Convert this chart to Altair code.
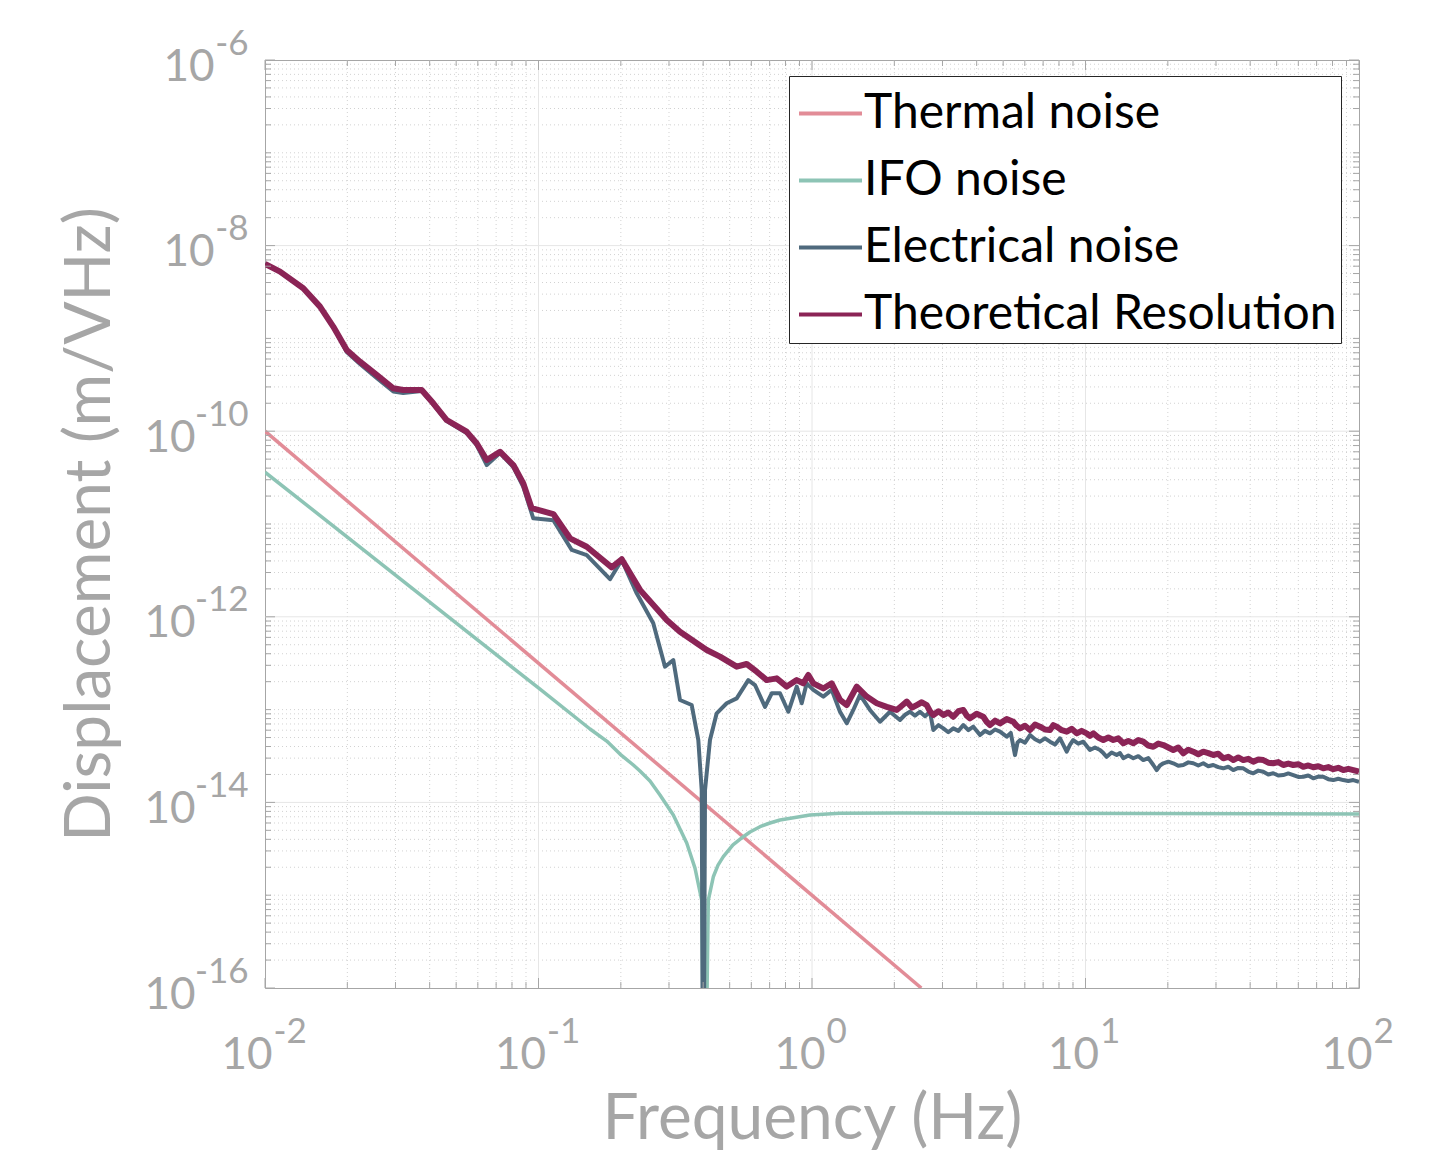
import altair as alt
import pandas as pd

W, H = 1094, 928
GRAY = "#a6a6a6"
FONT = "Lato"

# ---------------- data ----------------
series_names = ["Thermal noise", "IFO noise", "Electrical noise", "Theoretical Resolution"]
series_colors = ["#e28c97", "#8dc4b5", "#4f6a7d", "#8b2456"]
series_widths = [3.5, 3.5, 4, 6]

thermal_f = [0.01, 2.51]
thermal_v = [1.0e-10, 1.0e-16]

ifo_f = [0.01, 0.1013, 0.1543, 0.1776, 0.1986, 0.2222, 0.2350, 0.2557, 0.2781, 0.3111,
         0.3483, 0.3734, 0.3951, 0.4046, 0.4177, 0.4357, 0.4533, 0.4740, 0.5141, 0.5609,
         0.5934, 0.6454, 0.7021, 0.7638, 0.9833, 1.266, 2.097, 100.0]
ifo_v = [3.62e-11, 1.66e-13, 6.18e-14, 4.58e-14, 3.32e-14, 2.53e-14, 2.18e-14, 1.70e-14, 1.20e-14, 7.31e-15,
         3.65e-15, 1.96e-15, 8.87e-16, 1.0e-18, 8.87e-16, 1.58e-15, 2.11e-15, 2.60e-15, 3.48e-15, 4.27e-15,
         4.80e-15, 5.47e-15, 6.0e-15, 6.46e-15, 7.31e-15, 7.62e-15, 7.69e-15, 7.50e-15]

elec_f = [0.01, 0.01135, 0.0138, 0.01589, 0.01776, 0.0199, 0.02225, 0.0256, 0.02945, 0.0320,
          0.0374, 0.04124, 0.04617, 0.0546, 0.0594, 0.0647, 0.0723, 0.0809, 0.0880, 0.0957,
          0.1133, 0.1323, 0.1501, 0.1826, 0.2015, 0.2286, 0.2628, 0.2901, 0.3111, 0.3291,
          0.3632, 0.3840, 0.3951, 0.4006, 0.4063, 0.4236, 0.4482, 0.4876, 0.5305, 0.5849,
          0.6189, 0.6733, 0.7124, 0.7638, 0.8193, 0.8794, 0.9169, 0.9564, 1.011, 1.100,
          1.180, 1.266, 1.340, 1.416, 1.498, 1.629, 1.773, 1.928, 2.097, 2.19,
          2.281, 2.38, 2.482, 2.59, 2.700, 2.777, 2.90, 3.021, 3.15, 3.286,
          3.43, 3.574, 3.73, 3.889, 4.116, 4.29, 4.476, 4.67, 4.869, 5.151,
          5.33, 5.524, 5.64, 5.762, 6.01, 6.268, 6.54, 6.817, 7.11, 7.416,
          7.74, 8.07, 8.537, 8.78, 9.02, 9.41, 9.82, 10.38, 10.83, 11.30,
          11.62, 11.95, 12.46, 13.00, 13.37, 13.75, 14.34, 14.96, 15.60, 16.27,
          16.97, 17.70, 18.21, 18.72, 19.26, 20.08, 20.94, 21.84, 22.78, 23.76,
          24.78, 25.85, 26.96, 28.12, 29.33, 30.59, 31.90, 33.27, 34.70, 36.19,
          37.75, 39.37, 41.06, 42.83, 44.67, 46.59, 48.59, 50.68, 52.86, 55.13,
          57.51, 59.98, 62.55, 65.24, 68.05, 70.98, 74.03, 77.22, 80.54, 84.0,
          87.62, 91.38, 95.30, 100.0]
elec_v = [6.34e-9, 5.24e-9, 3.47e-9, 2.20e-9, 1.34e-9, 7.13e-10, 5.30e-10, 3.74e-10, 2.68e-10, 2.58e-10,
          2.71e-10, 1.94e-10, 1.29e-10, 9.57e-11, 7.10e-11, 4.32e-11, 5.82e-11, 4.11e-11, 2.51e-11, 1.15e-11,
          1.10e-11, 5.25e-12, 4.63e-12, 2.54e-12, 4.09e-12, 1.79e-12, 8.51e-13, 2.90e-13, 3.42e-13, 1.27e-13,
          1.12e-13, 4.70e-14, 1.36e-14, 1.0e-18, 1.36e-14, 4.70e-14, 9.12e-14, 1.17e-13, 1.32e-13, 2.08e-13,
          1.84e-13, 1.07e-13, 1.50e-13, 1.50e-13, 9.48e-14, 1.77e-13, 1.17e-13, 1.92e-13, 1.63e-13, 1.38e-13,
          1.63e-13, 9.48e-14, 7.11e-14, 9.91e-14, 1.44e-13, 9.91e-14, 7.40e-14, 9.48e-14, 7.73e-14, 8.8e-14,
          9.48e-14, 8.6e-14, 9.48e-14, 8.5e-14, 9.48e-14, 6.03e-14, 6.8e-14, 6.28e-14, 5.7e-14, 6.28e-14,
          5.9e-14, 6.82e-14, 6.0e-14, 6.55e-14, 5.32e-14, 5.9e-14, 5.55e-14, 6.1e-14, 5.78e-14, 5.11e-14,
          5.6e-14, 3.24e-14, 4.4e-14, 4.70e-14, 4.4e-14, 5.32e-14, 4.8e-14, 4.51e-14, 4.9e-14, 4.51e-14,
          4.2e-14, 4.91e-14, 3.52e-14, 4.2e-14, 4.70e-14, 4.3e-14, 4.51e-14, 3.67e-14, 3.9e-14, 3.67e-14,
          3.4e-14, 3.10e-14, 3.45e-14, 3.24e-14, 3.4e-14, 2.99e-14, 3.2e-14, 2.99e-14, 3.15e-14, 2.86e-14,
          3.0e-14, 2.53e-14, 2.23e-14, 2.5e-14, 2.64e-14, 2.75e-14, 2.64e-14, 2.48e-14, 2.53e-14, 2.7e-14,
          2.64e-14, 2.5e-14, 2.64e-14, 2.45e-14, 2.53e-14, 2.4e-14, 2.33e-14, 2.42e-14, 2.23e-14, 2.35e-14,
          2.33e-14, 2.15e-14, 2.06e-14, 2.2e-14, 2.14e-14, 2.0e-14, 2.06e-14, 1.95e-14, 1.97e-14, 2.05e-14,
          1.97e-14, 1.88e-14, 1.89e-14, 1.95e-14, 1.82e-14, 1.9e-14, 1.89e-14, 1.78e-14, 1.74e-14, 1.8e-14,
          1.74e-14, 1.7e-14, 1.74e-14, 1.67e-14]

theory_f = [0.01, 0.01135, 0.0138, 0.01589, 0.01776, 0.0199, 0.02225, 0.0256, 0.02945, 0.0320,
            0.0374, 0.04124, 0.04617, 0.0546, 0.0594, 0.0647, 0.0723, 0.0809, 0.0880, 0.0944,
            0.1133, 0.1304, 0.1501, 0.1852, 0.2015, 0.2350, 0.2942, 0.3291, 0.4121, 0.4609,
            0.5305, 0.5770, 0.6279, 0.6830, 0.7428, 0.8083, 0.8794, 0.9294, 0.9694, 1.011,
            1.100, 1.180, 1.266, 1.340, 1.457, 1.585, 1.725, 1.876, 2.040, 2.13,
            2.220, 2.32, 2.415, 2.52, 2.627, 2.70, 2.777, 2.90, 3.021, 3.15,
            3.286, 3.43, 3.574, 3.68, 3.782, 4.00, 4.230, 4.35, 4.476, 4.67,
            4.869, 5.15, 5.445, 5.60, 5.762, 6.01, 6.268, 6.54, 6.817, 7.11,
            7.416, 7.63, 7.847, 8.19, 8.537, 8.90, 9.286, 9.68, 10.10, 10.38,
            10.68, 11.14, 11.62, 12.12, 12.64, 13.18, 13.75, 14.34, 14.96, 15.60,
            16.27, 16.97, 17.70, 18.46, 19.26, 20.08, 20.94, 21.84, 22.78, 23.76,
            24.78, 25.85, 26.96, 28.12, 29.33, 30.59, 31.90, 33.27, 34.70, 36.19,
            37.75, 39.37, 41.06, 42.83, 44.67, 46.59, 48.59, 50.68, 52.86, 55.13,
            57.51, 59.98, 62.55, 65.24, 68.05, 70.98, 74.03, 77.22, 80.54, 84.0,
            87.62, 91.38, 95.30, 100.0]
theory_v = [6.34e-9, 5.24e-9, 3.47e-9, 2.20e-9, 1.34e-9, 7.50e-10, 5.61e-10, 4.04e-10, 2.90e-10, 2.78e-10,
            2.78e-10, 2.00e-10, 1.32e-10, 9.88e-11, 7.41e-11, 4.90e-11, 6.01e-11, 4.32e-11, 2.74e-11, 1.48e-11,
            1.28e-11, 7.01e-12, 5.69e-12, 3.41e-12, 4.17e-12, 1.95e-12, 9.23e-13, 6.90e-13, 4.39e-13, 3.72e-13,
            2.90e-13, 3.10e-13, 2.56e-13, 2.08e-13, 2.17e-13, 1.77e-13, 2.08e-13, 1.92e-13, 2.36e-13, 1.92e-13,
            1.69e-13, 1.92e-13, 1.27e-13, 1.12e-13, 1.77e-13, 1.38e-13, 1.17e-13, 1.07e-13, 9.91e-14, 1.10e-13,
            1.22e-13, 1.05e-13, 1.12e-13, 1.20e-13, 1.12e-13, 9.6e-14, 8.75e-14, 9.6e-14, 8.75e-14, 9.3e-14,
            8.38e-14, 9.6e-14, 9.91e-14, 8.6e-14, 8.05e-14, 9.0e-14, 8.38e-14, 7.4e-14, 6.82e-14, 7.6e-14,
            7.11e-14, 7.9e-14, 7.40e-14, 6.7e-14, 6.28e-14, 6.7e-14, 6.03e-14, 6.9e-14, 6.55e-14, 6.1e-14,
            6.03e-14, 6.8e-14, 6.55e-14, 6.0e-14, 5.78e-14, 6.2e-14, 5.55e-14, 5.9e-14, 5.55e-14, 5.2e-14,
            5.55e-14, 5.0e-14, 4.70e-14, 5.0e-14, 4.70e-14, 4.9e-14, 4.34e-14, 4.6e-14, 4.34e-14, 4.7e-14,
            4.51e-14, 4.1e-14, 3.98e-14, 4.3e-14, 4.15e-14, 3.9e-14, 3.67e-14, 3.9e-14, 3.38e-14, 3.7e-14,
            3.52e-14, 3.3e-14, 3.52e-14, 3.4e-14, 3.24e-14, 3.35e-14, 2.99e-14, 3.1e-14, 2.86e-14, 3.05e-14,
            2.86e-14, 2.95e-14, 2.74e-14, 2.9e-14, 2.86e-14, 2.68e-14, 2.64e-14, 2.72e-14, 2.53e-14, 2.62e-14,
            2.53e-14, 2.58e-14, 2.42e-14, 2.5e-14, 2.39e-14, 2.45e-14, 2.33e-14, 2.4e-14, 2.28e-14, 2.36e-14,
            2.23e-14, 2.3e-14, 2.23e-14, 2.14e-14]

# axis tick values
x_major = [0.01, 0.1, 1, 10, 100]
x_minor = [m * d for d in [0.01, 0.1, 1, 10] for m in range(2, 10)]
y_major = [1e-16, 1e-14, 1e-12, 1e-10, 1e-8, 1e-6]
y_minor = [m * 10.0 ** e for e in range(-16, -6) for m in range(1, 10) if not (m == 1 and e % 2 == 0)]

# ---------------- build table ----------------
rows = []
for name, fs, vs in [(series_names[0], thermal_f, thermal_v),
                     (series_names[1], ifo_f, ifo_v),
                     (series_names[2], elec_f, elec_v),
                     (series_names[3], theory_f, theory_v)]:
    for i, (f, v) in enumerate(zip(fs, vs)):
        rows.append({"series": name, "f": f, "v": v, "i": i})
df = pd.DataFrame(rows)

x_scale = alt.Scale(type="log", domain=[0.01, 100], nice=False)
y_scale = alt.Scale(type="log", domain=[1e-16, 1e-6], nice=False)

legend = alt.Legend(title=None, orient="none", legendX=524, legendY=16,
                    labelFont=FONT, labelFontSize=48, labelColor="black",
                    symbolType="stroke", symbolSize=3969, symbolStrokeWidth=4,
                    symbolOffset=4, labelOffset=0,
                    rowPadding=9, padding=4, strokeColor="#262626",
                    fillColor="white", labelLimit=1000)

# ---------------- grid ----------------
def vgrid(vals, color, dash):
    m = alt.Chart(pd.DataFrame({"t": vals})).mark_rule(color=color, strokeWidth=1, strokeDash=dash)
    return m.encode(x=alt.X("t:Q", scale=x_scale, axis=None))

def hgrid(vals, color, dash):
    m = alt.Chart(pd.DataFrame({"t": vals})).mark_rule(color=color, strokeWidth=1, strokeDash=dash)
    return m.encode(y=alt.Y("t:Q", scale=y_scale, axis=None))

grid_layers = [
    vgrid(x_minor, "#d2d2d2", [1, 3]),
    hgrid(y_minor, "#d2d2d2", [1, 3]),
    vgrid([0.1, 1, 10], "#e6e6e6", [1, 0]),
    hgrid([1e-14, 1e-12, 1e-10, 1e-8], "#e6e6e6", [1, 0]),
]

# ---------------- lines ----------------
color_enc = alt.Color("series:N", scale=alt.Scale(domain=series_names, range=series_colors), legend=legend)

line_layers = []
for name, w in zip(series_names, series_widths):
    line_layers.append(
        alt.Chart(df).transform_filter(alt.datum.series == name)
        .mark_line(clip=True, strokeJoin="round", strokeWidth=w)
        .encode(
            x=alt.X("f:Q", scale=x_scale, axis=None),
            y=alt.Y("v:Q", scale=y_scale, axis=None),
            color=color_enc,
            order="i:Q",
        )
    )

# ---------------- axes (labels as "10" + exponent) ----------------
ax_x10 = alt.Axis(values=x_major, labelExpr="'10'", orient="bottom", ticks=False, tickSize=0,
                  domain=False, grid=False, labelFont=FONT, labelFontSize=44, labelColor=GRAY,
                  labelAlign="right", labelBaseline="alphabetic", labelPadding=80,
                  labelOffset={"condition": {"test": "datum.value < 1", "value": 7}, "value": 13},
                  labelFlush=False, labelOverlap=False,
                  title="Frequency (Hz)", titleFont=FONT, titleFontSize=64, titleFontWeight="normal",
                  titleColor=GRAY, titleX=W / 2, titleY=150, titleAlign="center", titleBaseline="alphabetic")
ax_xexp = alt.Axis(values=x_major, labelExpr="'' + round(log(datum.value) / LN10)", orient="bottom",
                   ticks=False, tickSize=0, domain=False, grid=False, labelFont=FONT, labelFontSize=35,
                   labelColor=GRAY, labelAlign="left", labelBaseline="alphabetic", labelPadding=54,
                   labelOffset={"condition": {"test": "datum.value < 1", "value": 8}, "value": 14},
                   labelFlush=False, labelOverlap=False, title=None)
ax_y10 = alt.Axis(values=y_major, labelExpr="'10'", orient="left", ticks=False, tickSize=0,
                  domain=False, grid=False, labelFont=FONT, labelFontSize=44, labelColor=GRAY,
                  labelAlign="right", labelBaseline="alphabetic",
                  labelPadding={"condition": {"test": "datum.value < 5e-10", "value": 70}, "value": 51},
                  labelOffset=20, labelFlush=False, labelOverlap=False,
                  title="Displacement (m/VHz)", titleFont=FONT, titleFontSize=64, titleFontWeight="normal",
                  titleColor=GRAY, titleX=-156, titleY=H / 2, titleAlign="center", titleBaseline="alphabetic")
ax_yexp = alt.Axis(values=y_major, labelExpr="'' + round(log(datum.value) / LN10)", orient="left",
                   ticks=False, tickSize=0, domain=False, grid=False, labelFont=FONT, labelFontSize=35,
                   labelColor=GRAY, labelAlign="right", labelBaseline="alphabetic", labelPadding=17,
                   labelOffset=-6, labelFlush=False, labelOverlap=False, title=None)

# ---------------- inward ticks on all four sides ----------------
def xticks(vals, length, axis, top=False):
    m = alt.Chart(pd.DataFrame({"t": vals})).mark_rule(color=GRAY, strokeWidth=1)
    if top:
        return m.encode(x=alt.X("t:Q", scale=x_scale, axis=axis), y=alt.value(0), y2=alt.value(length))
    return m.encode(x=alt.X("t:Q", scale=x_scale, axis=axis), y=alt.value(H), y2=alt.value(H - length))

def yticks(vals, length, axis, right=False):
    m = alt.Chart(pd.DataFrame({"t": vals})).mark_rule(color=GRAY, strokeWidth=1)
    if right:
        return m.encode(y=alt.Y("t:Q", scale=y_scale, axis=axis), x=alt.value(W), x2=alt.value(W - length))
    return m.encode(y=alt.Y("t:Q", scale=y_scale, axis=axis), x=alt.value(0), x2=alt.value(length))

tick_layers = [
    xticks(x_major, 10, ax_x10),
    xticks(x_major, 10, ax_xexp, top=True),
    xticks(x_minor, 6, None),
    xticks(x_minor, 6, None, top=True),
    yticks(y_major, 10, ax_y10),
    yticks(y_major, 10, ax_yexp, right=True),
    yticks(y_minor, 6, None),
    yticks(y_minor, 6, None, right=True),
]

chart = (
    alt.layer(*grid_layers, *line_layers, *tick_layers)
    .resolve_axis(x="independent", y="independent")
    .properties(width=W, height=H, autosize=alt.AutoSizeParams(type="none"),
                padding={"left": 257, "top": 52, "right": 85, "bottom": 163})
    .configure_view(stroke=GRAY, strokeWidth=1)
)

chart.save("out.html", embed_options={"renderer": "svg", "actions": False})
